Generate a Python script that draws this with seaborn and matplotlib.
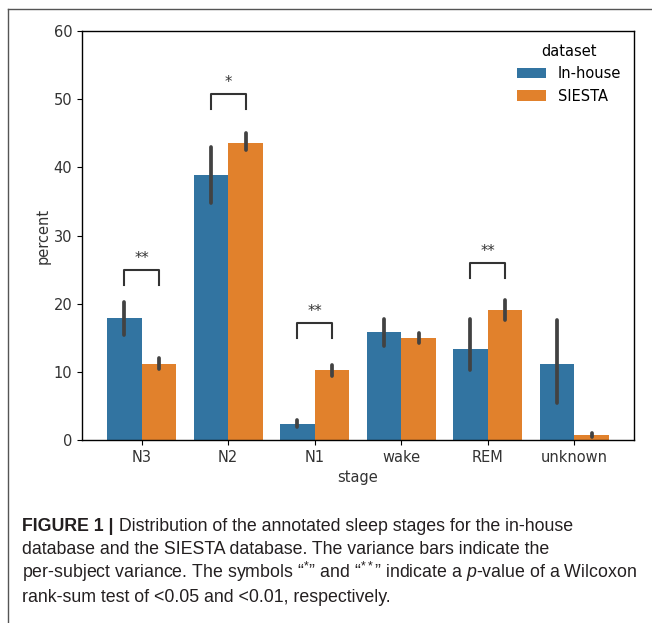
import matplotlib
matplotlib.use("Agg")
import matplotlib.pyplot as plt
import seaborn as sns
import pandas as pd
from matplotlib.lines import Line2D

# values (percent of epochs per stage)
stages = ["N3", "N2", "N1", "wake", "REM", "unknown"]
datasets = ["In-house", "SIESTA"]
inhouse_mean = [17.9, 38.9, 2.3, 15.9, 13.4, 11.1]
inhouse_low = [15.4, 34.8, 1.9, 13.8, 10.3, 5.4]
inhouse_high = [20.3, 43.0, 2.9, 17.8, 17.8, 17.6]
siesta_mean = [11.1, 43.6, 10.2, 14.9, 19.0, 0.7]
siesta_low = [10.4, 42.6, 9.4, 14.3, 17.6, 0.5]
siesta_high = [12.0, 45.0, 11.0, 15.7, 20.5, 1.0]

# significance brackets
sig_stages = ["N3", "N2", "N1", "REM"]
sig_top = [25.0, 50.8, 17.2, 26.0]
sig_labels = ["**", "*", "**", "**"]

caption_bold = "FIGURE 1 |"
caption_lines = [
    " Distribution of the annotated sleep stages for the in-house",
    "database and the SIESTA database. The variance bars indicate the",
    "per-subject variance. The symbols \u201c$^{*}$\u201d and \u201c$^{**}$\u201d indicate a $p$-value of a Wilcoxon",
    "rank-sum test of <0.05 and <0.01, respectively.",
]

df = pd.DataFrame({
    "stage": stages * 2,
    "dataset": [datasets[0]] * len(stages) + [datasets[1]] * len(stages),
    "percent": inhouse_mean + siesta_mean,
})
lows = [inhouse_low, siesta_low]
highs = [inhouse_high, siesta_high]

plt.rcParams["mathtext.fontset"] = "custom"
plt.rcParams["mathtext.rm"] = "Liberation Sans"
plt.rcParams["mathtext.it"] = "Liberation Sans:italic"

fig = plt.figure(figsize=(6.52, 6.23), dpi=100)
ax = fig.add_axes([82 / 652, 1 - 440 / 623, (634 - 82) / 652, (440 - 31) / 623])

sns.barplot(data=df, x="stage", y="percent", hue="dataset", order=stages,
            hue_order=datasets, errorbar=None, ax=ax)

# variance bars on top of each bar
centers = {}
for i, cont in enumerate(ax.containers):
    for j, p in enumerate(cont.patches):
        xc = p.get_x() + p.get_width() / 2
        centers[(i, j)] = xc
        ax.plot([xc, xc], [lows[i][j], highs[i][j]], color="#424242",
                lw=2.7, solid_capstyle="round", zorder=3)

# brackets with stars
for st, top, lab in zip(sig_stages, sig_top, sig_labels):
    j = stages.index(st)
    x0, x1 = centers[(0, j)], centers[(1, j)]
    ax.plot([x0, x0, x1, x1], [top - 2.2, top, top, top - 2.2],
            color="#333333", lw=1.5)
    ax.text((x0 + x1) / 2, top + 0.5, lab, ha="center", va="bottom",
            fontsize=10.5, color="#333333")

ax.set_ylim(0, 60)
ax.set_yticks(range(0, 61, 10))
ax.set_xlabel("stage", fontsize=10.5, color="#333333")
ax.set_ylabel("percent", fontsize=10.5, color="#333333", labelpad=2)
ax.tick_params(labelsize=10.5, labelcolor="#333333")
for s in ax.spines.values():
    s.set_linewidth(1.0)

sns.move_legend(ax, "upper right", frameon=False, title="dataset",
                fontsize=10.5, title_fontsize=10.5)

# outer frame of the figure panel (clipped at right and bottom)
fx, fy = 7.5 / 652, 1 - 8.5 / 623
fig.add_artist(Line2D([fx, fx], [0, fy], transform=fig.transFigure,
                      color="#555555", lw=1.0))
fig.add_artist(Line2D([fx, 1], [fy, fy], transform=fig.transFigure,
                      color="#555555", lw=1.0))

# caption
cap_font = dict(family="Liberation Sans", fontsize=12.8, color="#231f20")
baselines = [531, 554.5, 578, 601.5]
x_left = 22 / 652
bold = fig.text(x_left, 1 - baselines[0] / 623, caption_bold, fontweight="bold",
                va="baseline", **cap_font)
fig.canvas.draw()
bb = bold.get_window_extent().transformed(fig.transFigure.inverted())
fig.text(bb.x1, 1 - baselines[0] / 623, caption_lines[0], va="baseline", **cap_font)
for line, yb in zip(caption_lines[1:], baselines[1:]):
    fig.text(x_left, 1 - yb / 623, line, va="baseline", **cap_font)

fig.savefig("out.png", dpi=100)
